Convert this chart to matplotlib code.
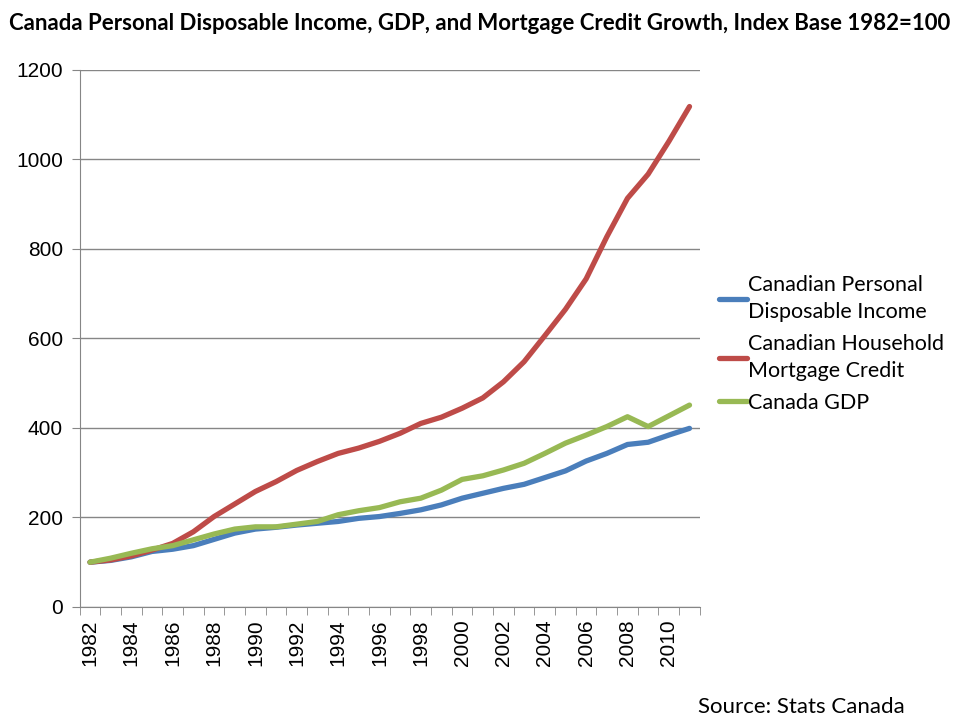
import numpy as np
import matplotlib
matplotlib.use("Agg")
import matplotlib.pyplot as plt

years = list(range(1982, 2012))
income = [100, 104, 112, 124, 129, 137, 151, 165, 174, 178, 183, 187, 191, 198, 202,
          209, 217, 228, 243, 254, 265, 274, 289, 304, 326, 343, 363, 368, 384, 399]
mortgage = [100, 105, 114, 127, 142, 168, 202, 230, 258, 280, 305, 325, 343, 355, 370,
            388, 410, 424, 444, 467, 503, 548, 606, 665, 733, 827, 913, 967, 1040, 1118]
gdp = [100, 109, 120, 130, 137, 150, 163, 174, 179, 179, 185, 191, 206, 215, 222,
       235, 243, 261, 285, 293, 306, 321, 343, 366, 384, 403, 425, 403, 427, 451]

names = ["Canadian Personal\nDisposable Income",
         "Canadian Household\nMortgage Credit",
         "Canada GDP"]
colors = ["#4A7EBB", "#BE4B48", "#98B954"]

fig = plt.figure(figsize=(9.6, 7.2), dpi=100)
ax = fig.add_axes([0.083, 0.157, 0.646, 0.746])

for vals, name, c in zip([income, mortgage, gdp], names, colors):
    ax.plot(years, vals, color=c, lw=3.8, label=name, solid_capstyle="round")

ax.set_ylim(0, 1200)
ax.set_xlim(1981.5, 2011.5)
ax.set_yticks(range(0, 1201, 200))
ax.yaxis.grid(True, color="#868686", lw=1)
ax.set_axisbelow(True)

ax.set_xticks(years[::2])
ax.set_xticklabels([str(y) for y in years[::2]], rotation=90)
ax.set_xticks(np.arange(1981.5, 2012, 1), minor=True)
ax.tick_params(axis="x", which="major", length=0, pad=9, labelsize=15)
ax.tick_params(axis="x", which="minor", length=6, color="#868686")
ax.tick_params(axis="y", length=6, color="#868686", labelsize=15, pad=6)
for lab in ax.get_xticklabels() + ax.get_yticklabels():
    lab.set_family("Liberation Sans")

for s in ["top", "right"]:
    ax.spines[s].set_visible(False)
ax.spines["left"].set_color("#868686")
ax.spines["bottom"].set_color("#868686")

leg = ax.legend(loc="center left", bbox_to_anchor=(1.0, 0.49), frameon=False,
                prop={"family": "Lato", "size": 15.5}, handlelength=1.3,
                handletextpad=0.05, labelspacing=0.55)
for t in leg.get_texts():
    t.set_linespacing(1.45)

fig.text(0.5, 0.968, "Canada Personal Disposable Income, GDP, and Mortgage Credit Growth, Index Base 1982=100",
         ha="center", va="center", fontsize=16, fontweight="bold", family="Lato")
fig.text(0.727, 0.018, "Source: Stats Canada", ha="left", va="center",
         fontsize=16, family="Lato")

fig.savefig("out.png", dpi=100)
